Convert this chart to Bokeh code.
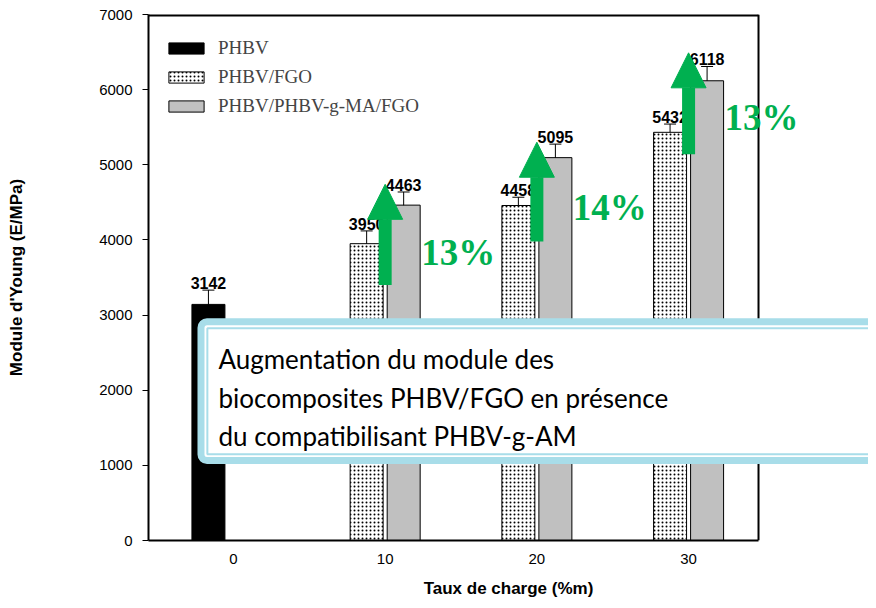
from bokeh.plotting import figure
from bokeh.models import (ColumnDataSource, Range1d, Whisker, TeeHead, Arrow, NormalHead,
                          BoxAnnotation, Label, LabelSet, Legend, LegendItem,
                          FixedTicker, Span)
from bokeh.transform import dodge
from bokeh.core.properties import value
from bokeh.embed import file_html
from bokeh.resources import INLINE

# ---------------- data ----------------
categories = ["0", "10", "20", "30"]
series_names = ["PHBV", "PHBV/FGO", "PHBV/PHBV-g-MA/FGO"]

phbv_cats = ["0"]
phbv_vals = [3142]
phbv_err = [190]

fgo_cats = ["10", "20", "30"]
fgo_vals = [3950, 4458, 5432]
fgo_err = [170, 110, 110]

ma_cats = ["10", "20", "30"]
ma_vals = [4463, 5095, 6118]
ma_err = [175, 180, 190]

gain_cats = ["10", "20", "30"]
gain_text = ["13%", "14%", "13%"]
gain_y = [3660, 4270, 5460]
arrow_from = [3400, 3980, 5140]
arrow_to = [4740, 5300, 6490]

note_lines = ["Augmentation du module des",
              "biocomposites PHBV/FGO en présence",
              "du compatibilisant PHBV-g-AM"]
note_y = [2420, 1890, 1390]

y_ticks = [0, 1000, 2000, 3000, 4000, 5000, 6000, 7000]

# ---------------- styles ----------------
GREEN = "#00B050"
GREY = "#C0C0C0"
BLUE = "#A8DDE9"
W = 0.2175
OFF_PAIR = 0.122
OFF_SINGLE = -0.165
X0, X_BORDER, X1 = -0.56, 3.461, 4.186

idx = {c: i for i, c in enumerate(categories)}


def make_src(cats, vals, errs):
    return ColumnDataSource(dict(
        x=[idx[c] for c in cats], v=vals,
        lo=[v - e for v, e in zip(vals, errs)],
        hi=[v + e for v, e in zip(vals, errs)],
        lab=[str(v) for v in vals]))


s_phbv = make_src(phbv_cats, phbv_vals, phbv_err)
s_fgo = make_src(fgo_cats, fgo_vals, fgo_err)
s_ma = make_src(ma_cats, ma_vals, ma_err)

p = figure(width=868, height=600, output_backend="svg", toolbar_location=None,
           x_range=Range1d(X0, X1), y_range=Range1d(0, 7000),
           min_border_left=148, min_border_right=0, min_border_top=14,
           min_border_bottom=56)
p.xgrid.visible = False
p.ygrid.visible = False
p.outline_line_color = None
p.background_fill_color = "white"

r_phbv = p.vbar(x=dodge("x", OFF_SINGLE), top="v", width=W, source=s_phbv,
                fill_color="black", line_color="black", line_width=1)
r_fgo = p.vbar(x=dodge("x", -OFF_PAIR), top="v", width=W, source=s_fgo,
               fill_color="white", line_color="black", line_width=1,
               hatch_pattern="dot", hatch_color="black", hatch_scale=4,
               hatch_weight=1.2)
r_ma = p.vbar(x=dodge("x", OFF_PAIR), top="v", width=W, source=s_ma,
              fill_color=GREY, line_color="black", line_width=1)

# frame border (top and right)
p.segment(x0=[X0], y0=[7000], x1=[X_BORDER], y1=[7000], line_color="black",
          line_width=4)
p.add_layout(Span(location=X_BORDER, dimension="height", line_color="black",
                  line_width=2))

for src, off in ((s_phbv, OFF_SINGLE), (s_fgo, -OFF_PAIR), (s_ma, OFF_PAIR)):
    p.add_layout(Whisker(source=src, base=dodge("x", off), upper="hi", lower="lo",
                         line_color="black", line_width=1,
                         upper_head=TeeHead(size=12, line_width=1),
                         lower_head=TeeHead(size=12, line_width=1)))
    p.text(x=dodge("x", off), y="hi", text="lab", source=src,
           text_font=value("Liberation Sans"), text_font_style="bold",
           text_font_size="16px", text_align="center",
           text_baseline="alphabetic", y_offset=-7, text_color="black")

# green arrows
s_arrow = ColumnDataSource(dict(x=[idx[c] for c in gain_cats], y0=arrow_from,
                                y1=arrow_to))
p.add_layout(Arrow(source=s_arrow, x_start="x", y_start="y0", x_end="x", y_end="y1",
                   line_color=GREEN, line_width=13,
                   end=NormalHead(size=35, fill_color=GREEN, line_color=GREEN,
                                  line_width=1)))

# note box
p.add_layout(BoxAnnotation(left=-0.214, right=6, top=2912, bottom=1063,
                           fill_color="white", fill_alpha=1,
                           line_color=BLUE, line_width=7, line_alpha=1,
                           border_radius=6))
p.add_layout(BoxAnnotation(left=-0.172, right=6, top=2826, bottom=1149,
                           fill_alpha=0, line_color=BLUE, line_width=2,
                           line_alpha=1))
for t, yy in zip(note_lines, note_y):
    p.add_layout(Label(x=-0.099, y=yy, text=t, text_font="Lato",
                       text_font_size="26px", text_color="black",
                       text_baseline="alphabetic"))

# percentages
s_gain = ColumnDataSource(dict(x=[idx[c] for c in gain_cats], y=gain_y, t=gain_text))
p.add_layout(LabelSet(source=s_gain, x="x", y="y", text="t", x_offset=36,
                      text_font=value("Liberation Serif"), text_font_size="37px",
                      text_font_style="bold",
                      text_color=GREEN, text_baseline="alphabetic"))

# axes
xa = p.xaxis[0]
xa.ticker = FixedTicker(ticks=list(range(len(categories))))
xa.major_label_overrides = {i: c for i, c in enumerate(categories)}
xa.bounds = (X0, X_BORDER)
xa.major_tick_line_color = None
xa.major_tick_out = 0
xa.minor_tick_line_color = None
xa.axis_line_width = 2
xa.major_label_standoff = 13
xa.major_label_text_font = "Liberation Sans"
xa.major_label_text_font_size = "15px"
xa.major_label_text_color = "black"
xa.axis_label = "Taux de charge (%m)"
xa.axis_label_text_font = "Liberation Sans"
xa.axis_label_text_font_style = "bold"
xa.axis_label_text_font_size = "17px"
xa.axis_label_standoff = 12
xa.axis_label_text_color = "black"

ya = p.yaxis[0]
ya.ticker = FixedTicker(ticks=y_ticks)
ya.minor_tick_line_color = None
ya.major_tick_in = 0
ya.major_tick_out = 6
ya.axis_line_width = 2
ya.major_label_standoff = 10
ya.major_label_text_font = "Liberation Sans"
ya.major_label_text_font_size = "15px"
ya.major_label_text_color = "black"
ya.axis_label = "Module d'Young (E/MPa)"
ya.axis_label_text_font = "Liberation Sans"
ya.axis_label_text_font_style = "bold"
ya.axis_label_text_font_size = "17px"
ya.axis_label_standoff = 70
ya.axis_label_text_color = "black"

legend = Legend(items=[LegendItem(label=series_names[0], renderers=[r_phbv]),
                       LegendItem(label=series_names[1], renderers=[r_fgo]),
                       LegendItem(label=series_names[2], renderers=[r_ma])],
                location=(16, 423), margin=0, padding=10, spacing=7,
                glyph_width=44, glyph_height=14, label_standoff=10,
                label_text_font="Liberation Serif", label_text_font_size="19px",
                border_line_color=None, background_fill_alpha=0)
p.add_layout(legend, "center")

open("out.html", "w").write(file_html(p, INLINE))
